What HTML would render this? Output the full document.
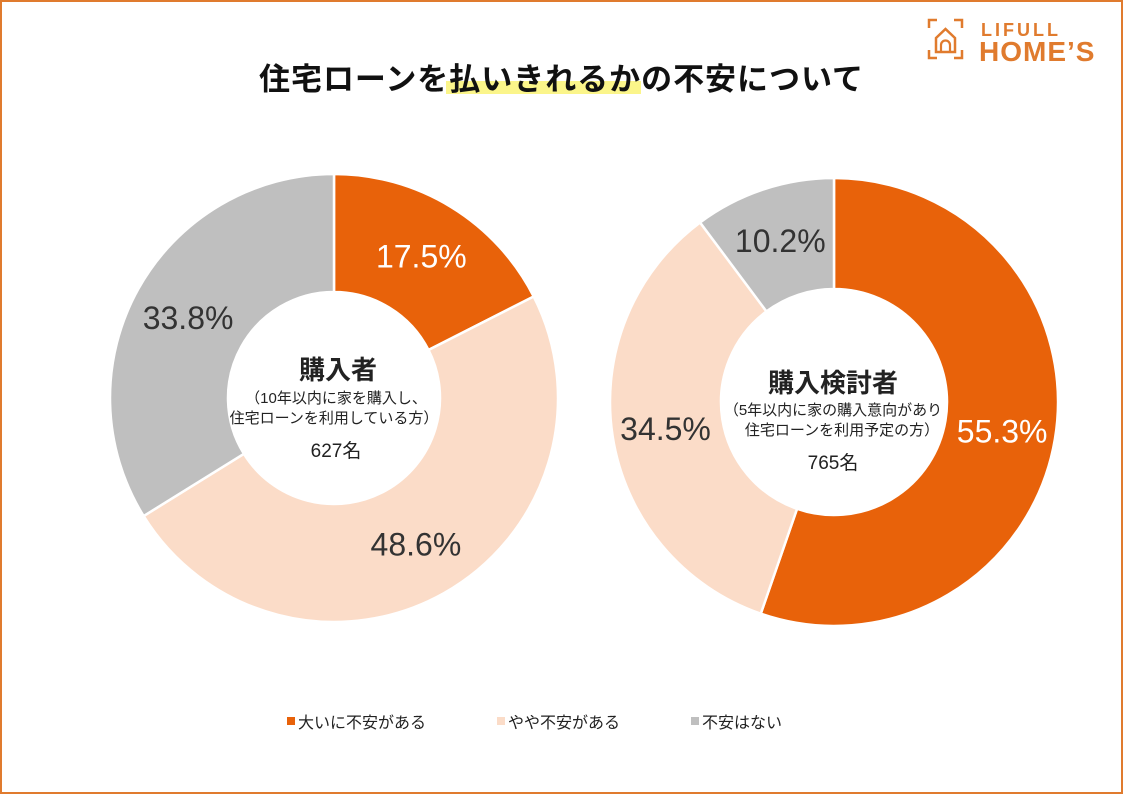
<!DOCTYPE html>
<html><head><meta charset="utf-8">
<style>
html,body{margin:0;padding:0;background:#fff;}
body{width:1123px;height:794px;overflow:hidden;font-family:"Liberation Sans","Noto Sans CJK JP",sans-serif;}
svg{display:block;}
</style></head>
<body>
<svg id="chart" width="1123" height="794" viewBox="0 0 1123 794" xmlns="http://www.w3.org/2000/svg" font-family="'Liberation Sans','Noto Sans CJK JP',sans-serif">
  <rect x="1" y="1" width="1121" height="792" fill="#fff" stroke="#E07B2E" stroke-width="2"/>
  <g>
    <path d="M929 28 v-8 h8 M954 20 h8 v8 M929 50 v8 h8 M954 58 h8 v-8" fill="none" stroke="#E07B2E" stroke-width="2.5"/>
    <path d="M936 52 v-14 l9.5 -9 l9.5 9 v14 z" fill="none" stroke="#E07B2E" stroke-width="2.5"/>
    <path d="M941 52 v-7 a4.5 4.5 0 0 1 9 0 v7" fill="none" stroke="#E07B2E" stroke-width="2.2"/>
    <text x="981" y="36" font-size="18" font-weight="bold" fill="#E07B2E" letter-spacing="3">LIFULL</text>
    <text x="979" y="61" font-size="28" font-weight="bold" fill="#E07B2E" letter-spacing="1">HOME’S</text>
  </g>
  <rect x="446" y="81" width="195" height="13" fill="#FBF58A"/>
  <text x="561" y="90" text-anchor="middle" font-size="31" font-weight="bold" fill="#111" textLength="604">住宅ローンを払いきれるかの不安について</text>
  <g id="donuts"></g>
  <g>
    <rect x="287" y="717" width="8" height="8" fill="#E8620A"/>
    <text x="298" y="728" font-size="16" fill="#222">大いに不安がある</text>
    <rect x="497" y="717" width="8" height="8" fill="#FBDCC8"/>
    <text x="508" y="728" font-size="16" fill="#222">やや不安がある</text>
    <rect x="691" y="717" width="8" height="8" fill="#BFBFBF"/>
    <text x="702" y="728" font-size="16" fill="#222">不安はない</text>
  </g>
</svg>
<script>
const categories = ["大いに不安がある", "やや不安がある", "不安はない"];
const buyerValues = [17.5, 48.6, 33.8];
const plannerValues = [55.3, 34.5, 10.2];
const colors = ["#E8620A", "#FBDCC8", "#BFBFBF"];
const NS = "http://www.w3.org/2000/svg";
const g = document.getElementById("donuts");
function pt(cx, cy, r, frac) {
  const a = frac * 2 * Math.PI;
  return [cx + r * Math.sin(a), cy - r * Math.cos(a)];
}
function donut(name, values, cx, cy, R, r, centerLines) {
  const grp = document.createElementNS(NS, "g");
  
  
  g.appendChild(grp);
  const total = values.reduce((s, v) => s + v, 0);
  let acc = 0;
  values.forEach((v, i) => {
    const f0 = acc / total, f1 = (acc + v) / total;
    acc += v;
    const large = (f1 - f0) > 0.5 ? 1 : 0;
    const [x0, y0] = pt(cx, cy, R, f0), [x1, y1] = pt(cx, cy, R, f1);
    const [x2, y2] = pt(cx, cy, r, f1), [x3, y3] = pt(cx, cy, r, f0);
    const p = document.createElementNS(NS, "path");
    p.setAttribute("d", `M${x0} ${y0} A${R} ${R} 0 ${large} 1 ${x1} ${y1} L${x2} ${y2} A${r} ${r} 0 ${large} 0 ${x3} ${y3} Z`);
    p.setAttribute("fill", colors[i]);
    p.setAttribute("stroke", "#fff");
    p.setAttribute("stroke-width", "2.5");
    
    
    grp.appendChild(p);
    const [lx, ly] = pt(cx, cy, (R + r) / 2 + 2, (f0 + f1) / 2);
    const t = document.createElementNS(NS, "text");
    t.setAttribute("x", lx); t.setAttribute("y", ly + 12);
    t.setAttribute("text-anchor", "middle");
    t.setAttribute("font-size", "32");
    t.setAttribute("fill", i === 0 ? "#fff" : "#333");
    t.textContent = v.toFixed(1) + "%";
    
    
    grp.appendChild(t);
  });
  centerLines.forEach(l => {
    const t = document.createElementNS(NS, "text");
    t.setAttribute("x", l.x); t.setAttribute("y", l.y);
    t.setAttribute("text-anchor", "middle");
    t.setAttribute("font-size", l.s);
    if (l.b) t.setAttribute("font-weight", "bold");
    t.setAttribute("fill", "#222");
    t.textContent = l.t;
    
    
    grp.appendChild(t);
  });
}
donut("buyer-donut", buyerValues, 334, 398, 224, 106, [
  {x:338, y:379, s:26, b:true, t:"購入者"},
  {x:336, y:403, s:15, t:"（10年以内に家を購入し、"},
  {x:334, y:423, s:15, t:"住宅ローンを利用している方）"},
  {x:336, y:457, s:19, t:"627名"}
]);
donut("planner-donut", plannerValues, 834, 402, 224, 113, [
  {x:833, y:392, s:26, b:true, t:"購入検討者"},
  {x:833, y:415, s:15, t:"（5年以内に家の購入意向があり"},
  {x:842, y:435, s:15, t:"住宅ローンを利用予定の方）"},
  {x:833, y:469, s:19, t:"765名"}
]);
</script>
</body></html>
